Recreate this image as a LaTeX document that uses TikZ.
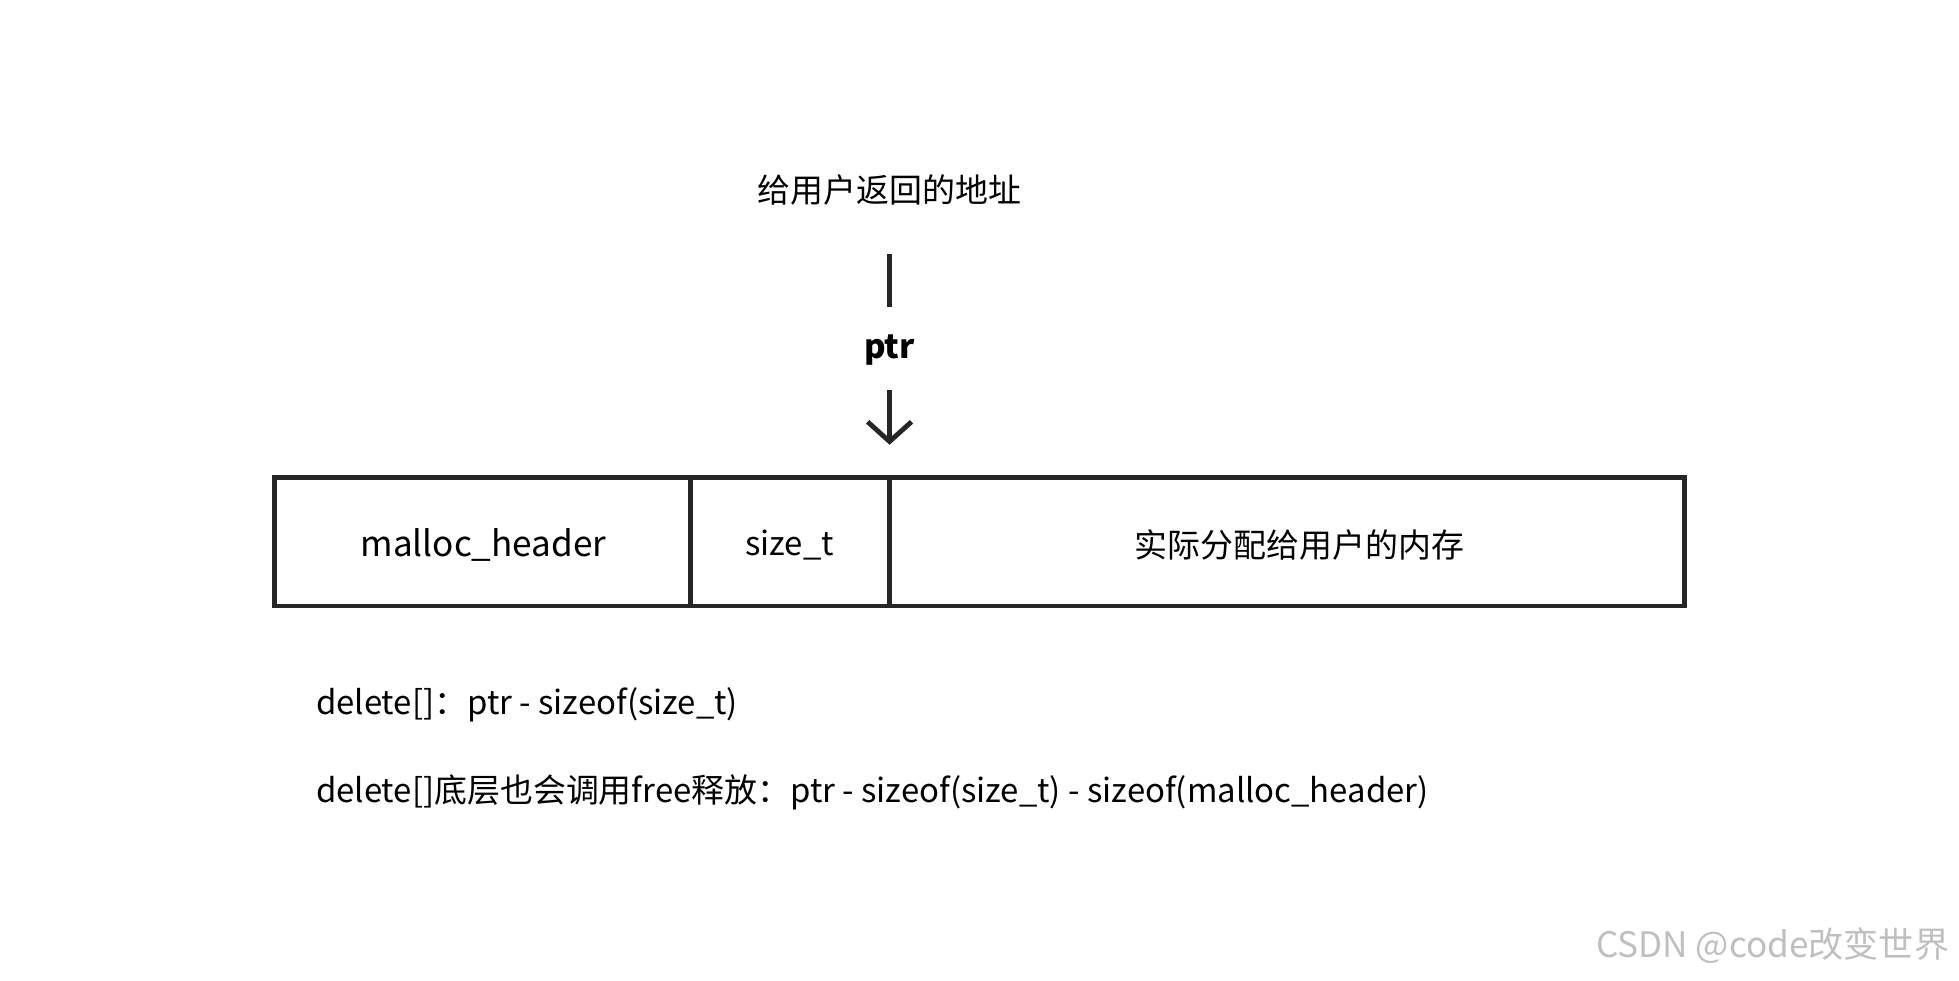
\documentclass[tikz,border=0pt]{standalone}
\usepackage{fontspec}
\setmainfont{Noto Sans CJK SC}
\usetikzlibrary{arrows.meta}

\begin{document}
\begin{tikzpicture}[x=0.02cm,y=-0.02cm,line width=2.2pt,
		txt/.style={font=\fontsize{15pt}{18pt}\selectfont},
		cell/.style={draw=black!85,line width=2.2pt}]
	\useasboundingbox (0,0) rectangle (1568,785);
	\node[txt] (addr) at (712,152) {给用户返回的地址};
	\coordinate (l1) at (712,203);
	\coordinate (l2) at (712,246);
	\draw[black!85] (l1) -- (l2);
	\node[txt,font=\fontsize{15pt}{18pt}\selectfont\bfseries] (ptr) at (712,280) {ptr};
	\coordinate (a1) at (712,312);
	\coordinate (a2) at (712,356);
	\draw[black!85,-{Straight Barb[length=9pt,width=20pt]}] (a1) -- (a2);
	\draw[cell] (220,382) rectangle (1348,485);
	\draw[cell] (553,382) -- (553,485) (712,382) -- (712,485);
	\node[txt,font=\fontsize{16pt}{19pt}\selectfont] (hdr) at (387,436) {malloc\_header};
	\node[txt] (sz) at (632,436) {size\_t};
	\node[txt] (mem) at (1040,436) {实际分配给用户的内存};
	\node[txt,anchor=west,inner sep=0pt] (d1) at (251,564) {delete[]：ptr - sizeof(size\_t)};
	\node[txt,anchor=west,inner sep=0pt] (d2) at (251,634) {delete[]底层也会调用free释放：ptr - sizeof(size\_t) - sizeof(malloc\_header)};
	\node[anchor=east,inner sep=0pt,text=black!25,font=\fontsize{16pt}{19pt}\selectfont] (wm) at (1562,757) {CSDN @code改变世界};
\end{tikzpicture}
\end{document}
